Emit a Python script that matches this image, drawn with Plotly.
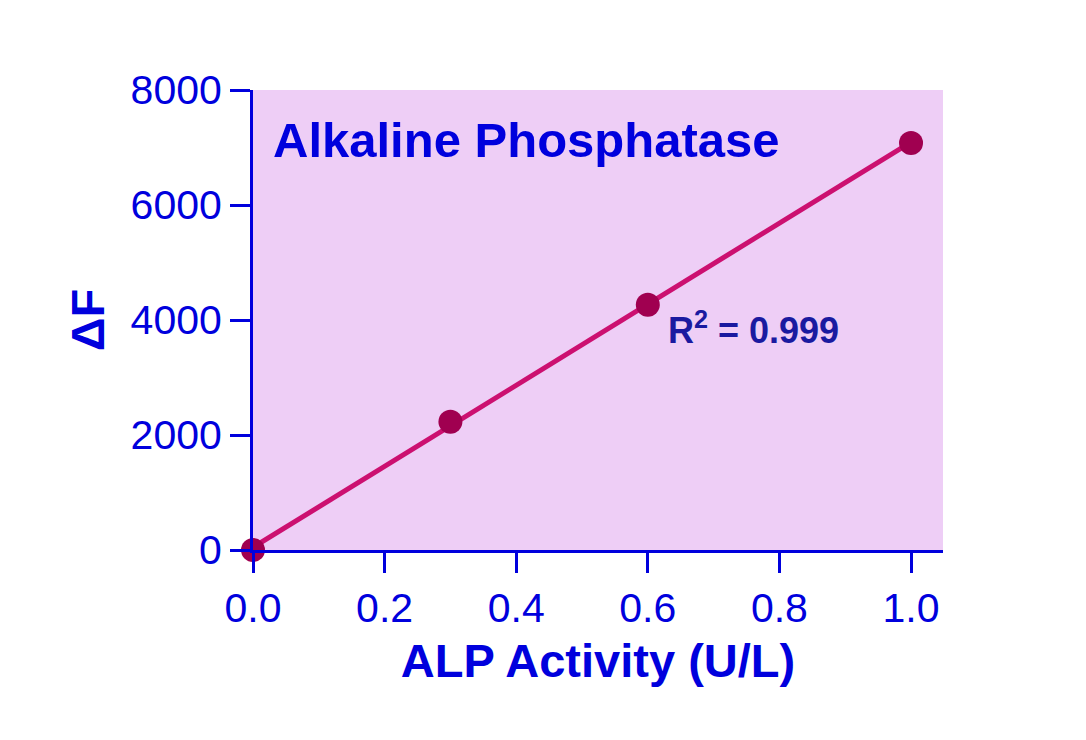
import numpy as np
import plotly.graph_objects as go

activity = [0.0, 0.3, 0.6, 1.0]
delta_f = [0, 2230, 4265, 7080]
x_ticks = [0.0, 0.2, 0.4, 0.6, 0.8, 1.0]
y_ticks = [0, 2000, 4000, 6000, 8000]

slope, intercept = np.polyfit(activity, delta_f, 1)
fit_x = [0.0, 1.0]
fit_y = [intercept + slope * v for v in fit_x]

BLUE = "#0000DD"
fig = go.Figure()
fig.add_trace(go.Scatter(x=fit_x, y=fit_y, mode="lines",
                         line=dict(color="#CC1070", width=5), showlegend=False,
                         cliponaxis=False))
fig.add_trace(go.Scatter(x=activity, y=delta_f, mode="markers",
                         marker=dict(color="#A00050", size=24), showlegend=False,
                         cliponaxis=False))

fig.update_layout(
    width=1086, height=740,
    margin=dict(l=253, r=143, t=90, b=190),
    paper_bgcolor="white", plot_bgcolor="#EECEF6",
    font=dict(family="Liberation Sans, Arial", color=BLUE),
    xaxis=dict(range=[0, 1.0486], tickvals=x_ticks, ticktext=[f"{v:.1f}" for v in x_ticks],
               showgrid=False, zeroline=False, showline=True, linecolor=BLUE, linewidth=3,
               ticks="outside", ticklen=20, tickwidth=3, tickcolor=BLUE,
               tickfont=dict(size=41, color=BLUE),
               title=dict(text="<b>ALP Activity (U/L)</b>", font=dict(size=47, color=BLUE), standoff=14)),
    yaxis=dict(range=[0, 8000], tickvals=y_ticks, ticktext=[str(v) for v in y_ticks],
               showgrid=False, zeroline=False, showline=True, linecolor=BLUE, linewidth=3,
               ticks="outside", ticklen=20, tickwidth=3, tickcolor=BLUE,
               tickfont=dict(size=41, color=BLUE),
               title=dict(text="<b>ΔF</b>", font=dict(size=47, color=BLUE), standoff=12)),
    annotations=[
        dict(text="<b>Alkaline Phosphatase</b>", xref="paper", yref="paper",
             x=(271-253)/690, y=1 - 50/460, xanchor="left", yanchor="middle", showarrow=False,
             font=dict(size=49, color=BLUE)),
        dict(text="<b>R<sup>2</sup> = 0.999</b>", xref="paper", yref="paper",
             x=(666-253)/690, y=(550-328)/460, xanchor="left", yanchor="middle", showarrow=False,
             font=dict(size=36, color="#1A1AA0")),
    ],
)
fig.write_html("out.html")
